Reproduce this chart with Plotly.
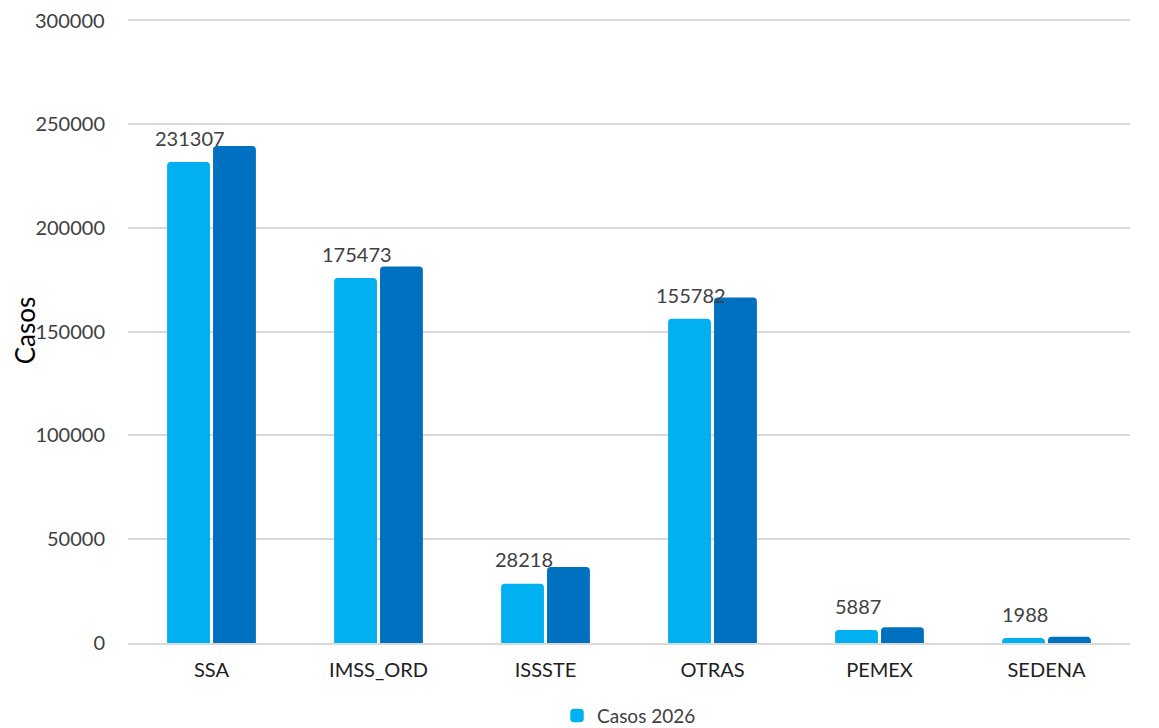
import plotly.graph_objects as go

instituciones = ['SSA', 'IMSS_ORD', 'ISSSTE', 'OTRAS', 'PEMEX', 'SEDENA']
casos_2026 = [231307, 175473, 28218, 155782, 5887, 1988]
casos_previo = [239000, 181000, 36300, 166000, 7200, 2700]
ticks_y = [0, 50000, 100000, 150000, 200000, 250000, 300000]

fig = go.Figure()
fig.add_trace(go.Bar(x=instituciones, y=casos_2026, name='Casos 2026',
                     marker=dict(color='#00b0f0', line=dict(color='#00b0f0', width=1.5))))
fig.add_trace(go.Bar(x=instituciones, y=casos_previo, name='Casos',
                     marker=dict(color='#0070c0', line=dict(color='#0070c0', width=1.5)),
                     showlegend=False))

# etiquetas sobre la barra clara
for cat, val in zip(instituciones, casos_2026):
    fig.add_annotation(x=cat, y=val, text=str(val), showarrow=False,
                       xshift=-22, yshift=25, yanchor='middle',
                       font=dict(size=20, color='#404040'))

# la etiqueta del tope del eje la oculta plotly al tocar el borde
fig.add_annotation(x=0, y=ticks_y[-1], xref='paper', yref='y', text=str(ticks_y[-1]),
                   showarrow=False, xanchor='right', yanchor='middle', xshift=-21,
                   font=dict(size=20, color='#404040'))

fig.add_annotation(x=-0.103, y=0.5, xref='paper', yref='paper', text='Casos',
                   textangle=-90, showarrow=False, xanchor='center', yanchor='middle',
                   font=dict(size=26, color='black'))

# la página deja 8 px de margen, por eso el lienzo es algo menor
fig.update_layout(
    width=1151, height=720,
    margin=dict(l=120, r=29, t=10, b=85, autoexpand=False),
    paper_bgcolor='white', plot_bgcolor='white',
    font=dict(family='Lato, Open Sans, sans-serif', color='#404040'),
    barmode='group', bargap=0.45, bargroupgap=0.1, barcornerradius=3,
    legend=dict(orientation='h', x=0.5, xanchor='center', y=-0.086, yanchor='top',
                font=dict(size=19, color='#404040')),
    showlegend=True,
)
fig.update_yaxes(range=[0, 301000], tickvals=ticks_y,
                 showgrid=True, gridcolor='#d9d9d9',
                 gridwidth=1.5, zeroline=False, showline=False, ticks='',
                 tickfont=dict(size=20, color='#404040'), ticklabelstandoff=22,
                 tickformat='d')
fig.update_xaxes(showline=True, linecolor='#d9d9d9', linewidth=2, ticks='',
                 tickfont=dict(size=20, color='#202020'), ticklabelstandoff=8)

fig.write_html('out.html')
